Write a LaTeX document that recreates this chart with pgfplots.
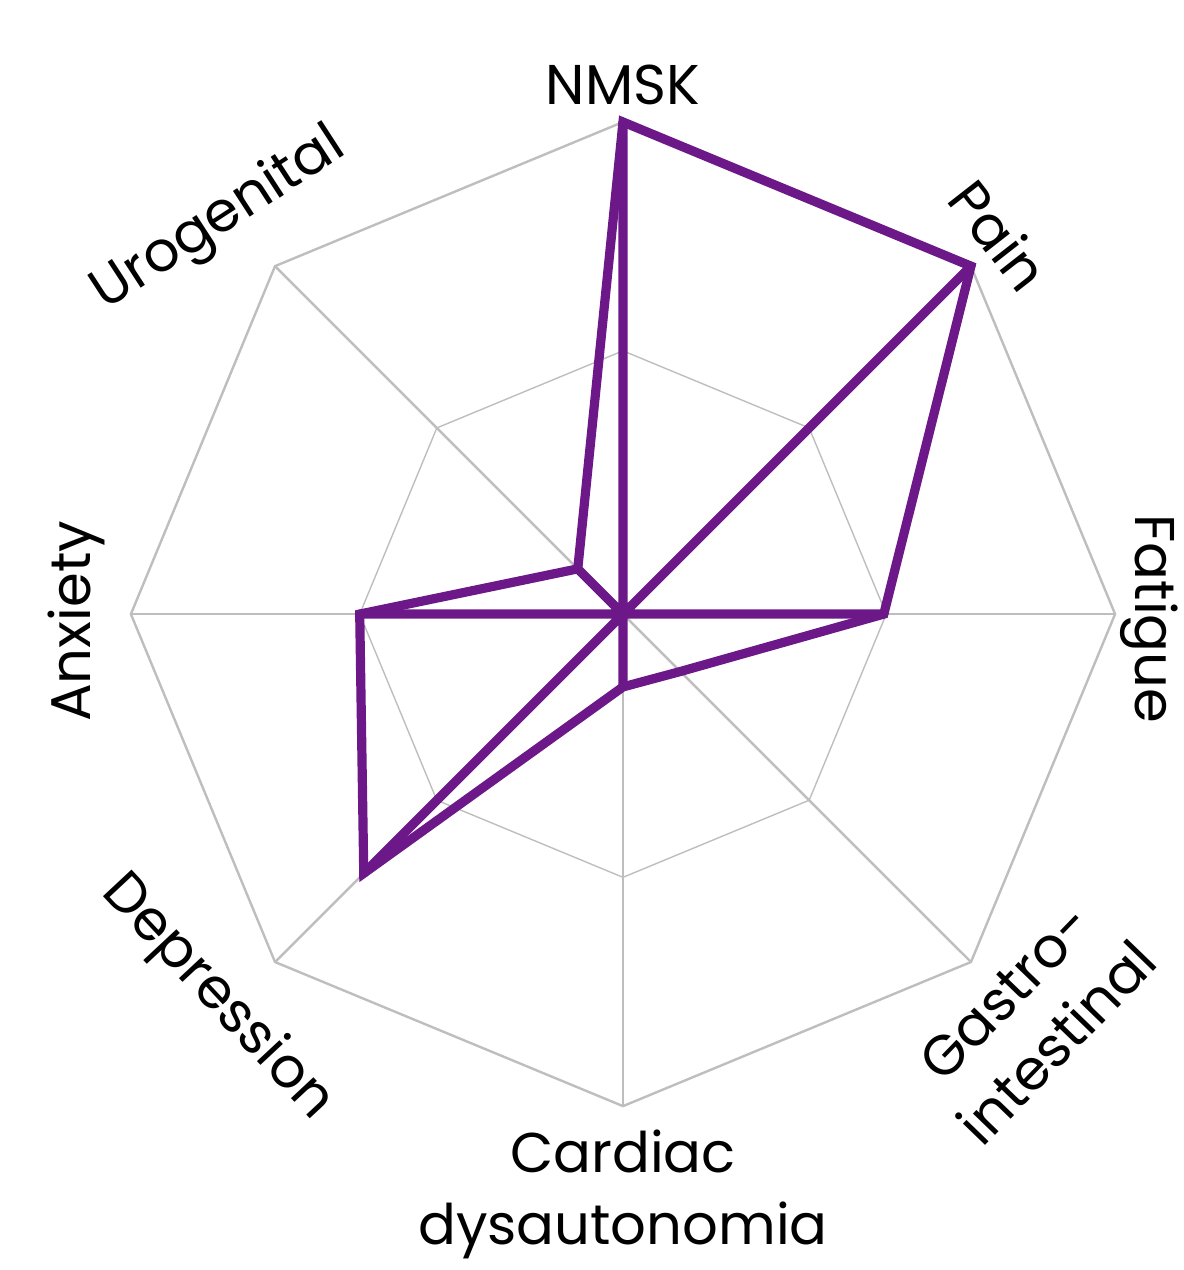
\documentclass[border=0pt]{standalone}
\usepackage{pgfplots}
\pgfplotsset{compat=1.18}
\usepackage{fontspec}
\setmainfont{Poppins}
\definecolor{prp}{RGB}{108,24,136}
\definecolor{grd}{RGB}{190,190,190}
\newcommand\lf{\fontsize{28}{36}\selectfont}
\begin{document}
\begin{tikzpicture}
\begin{axis}[name=ax,
  scale only axis, width=591.9pt, height=634.9pt,
  xmin=-1.266, xmax=1.140, ymin=-1.333, ymax=1.248,
  hide axis, clip=false]
% outer octagon
\addplot[grd, line width=1.2pt, data cs=polar] coordinates {
 (90,1)(45,1)(0,1)(315,1)(270,1)(225,1)(180,1)(135,1)(90,1)};
% inner octagon
\addplot[grd, line width=0.7pt, data cs=polar] coordinates {
 (90,0.535)(45,0.535)(0,0.535)(315,0.535)(270,0.535)(225,0.535)(180,0.535)(135,0.535)(90,0.535)};
% spokes
\foreach \a in {0,45,...,315}{
  \addplot[grd, line width=1.2pt, data cs=polar] coordinates {(\a,0)(\a,1)};
}
% data spokes to centre
\addplot[prp, line width=4.6pt, line join=round, data cs=polar] coordinates {
 (90,0)(90,1)(90,0)(45,1)(45,0)(0,0.53)(0,0)(270,0.148)(270,0)(225,0.745)(225,0)(180,0.535)(180,0)(135,0.13)(135,0)};
% data polygon
\addplot[prp, line width=4.6pt, line join=miter, data cs=polar] coordinates {
 (90,1)(45,1)(0,0.53)(315,0.165)(270,0.148)(225,0.745)(180,0.535)(135,0.13)(90,1)} -- cycle;
% labels
\node[text=black, font=\lf] at (axis cs:0,1.075) {NMSK};
\node[text=black, font=\lf, rotate=-52] at (axis cs:0.765,0.77) {Pain};
\node[text=black, font=\lf, rotate=-90] at (axis cs:1.07,-0.01) {Fatigue};
\node[text=black, font=\lf, rotate=46, align=center] at (axis cs:0.83,-0.82) {Gastro-\\intestinal};
\node[text=black, font=\lf, align=center] at (axis cs:0,-1.18) {Cardiac\\dysautonomia};
\node[text=black, font=\lf, rotate=-47] at (axis cs:-0.825,-0.78) {Depression};
\node[text=black, font=\lf, rotate=90] at (axis cs:-1.11,-0.015) {Anxiety};
\node[text=black, font=\lf, rotate=33] at (axis cs:-0.82,0.80) {Urogenital};
\end{axis}
\pgfresetboundingbox
\path (ax.south west) rectangle (ax.north east);
\end{tikzpicture}
\end{document}
